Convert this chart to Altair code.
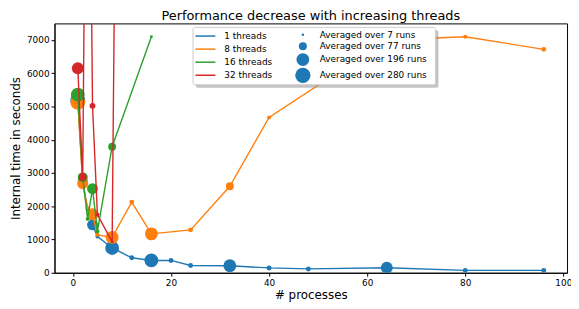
import altair as alt
import pandas as pd

series = ["1 threads", "8 threads", "16 threads", "32 threads"]
colors = ["#1f77b4", "#ff7f0e", "#2ca02c", "#d62728"]

x_1 = [1, 2, 3, 4, 5, 8, 12, 16, 20, 24, 32, 40, 48, 64, 80, 96]
y_1 = [5180, 2750, 1900, 1440, 1090, 745, 450, 370, 370, 218, 210, 145, 115, 150, 70, 70]
r_1 = [265, 118, 19, 142, 19, 230, 29, 230, 29, 29, 199, 29, 29, 170, 29, 29]

x_8 = [1, 2, 3, 4, 5, 8, 12, 16, 24, 32, 40, 64, 80, 96]
y_8 = [5130, 2680, 1950, 1760, 1140, 1065, 2125, 1170, 1290, 2600, 4670, 7000, 7100, 6720]
r_8 = [265, 142, 19, 170, 19, 199, 29, 199, 29, 75, 19, 19, 19, 29]

x_16 = [1, 2, 3, 4, 5, 8, 16]
y_16 = [5360, 2870, 1620, 2530, 1250, 3790, 7100]
r_16 = [230, 118, 19, 142, 19, 75, 10]

x_32 = [1, 2, 3, 4, 5, 8, 16]
y_32 = [6150, 2880, 20500, 5020, 1750, 930, 130000]
r_32 = [170, 75, 19, 42, 19, 10, 10]

legend_runs = [7, 77, 196, 280]

xs = [x_1, x_8, x_16, x_32]
ys = [y_1, y_8, y_16, y_32]
rs = [r_1, r_8, r_16, r_32]

frames = []
for s, xv, yv, rv in zip(series, xs, ys, rs):
    frames.append(pd.DataFrame({"series": s, "procs": xv, "time": yv, "runs": rv}))
df = pd.concat(frames, ignore_index=True)

FONT = "DejaVu Sans"

xenc = alt.X("procs:Q", title="# processes",
             scale=alt.Scale(domain=[-3.75, 100.75], nice=False, zero=False),
             axis=alt.Axis(values=[0, 20, 40, 60, 80, 100], format="d"))
yenc = alt.Y("time:Q", title="Internal time in seconds",
             scale=alt.Scale(domain=[0, 7500], nice=False),
             axis=alt.Axis(values=[0, 1000, 2000, 3000, 4000, 5000, 6000, 7000], format="d"))

color_scale = alt.Scale(domain=series, range=colors)
size_scale = alt.Scale(type="linear", domain=[0, 280], range=[0, 238], zero=True)

layers = []
for i, (s, c) in enumerate(zip(series, colors)):
    base = alt.Chart(df).transform_filter(alt.datum.series == s)
    line = base.mark_line(clip=True, strokeWidth=1.4).encode(
        x=xenc, y=yenc,
        color=alt.Color("series:N", scale=color_scale, sort=series,
                        legend=alt.Legend(title=None, orient="none", legendX=145, legendY=5.3,
                                          symbolType="M-1.5,0H1.5", symbolSize=180,
                                          symbolStrokeWidth=1.5, labelFontSize=9,
                                          labelFont=FONT, labelOffset=11.6, rowPadding=0.2,
                                          labelColor="#000")),
        order="procs:Q",
    )
    pts = base.mark_circle(clip=True, opacity=1).encode(
        x=xenc, y=yenc,
        color=alt.value(c),
        size=alt.Size("runs:Q", scale=size_scale,
                      legend=alt.Legend(title=None, orient="none", legendX=243, legendY=7,
                                        values=legend_runs, symbolFillColor="#808080",
                                        symbolStrokeColor="#808080", symbolStrokeWidth=0,
                                        labelFontSize=9, labelFont=FONT, labelOffset=9,
                                        rowPadding=1.5, labelColor="#000",
                                        labelExpr="'Averaged over ' + datum.label + ' runs'")),
    )
    layers += [line, pts]

box_df = pd.DataFrame({"k": [0]})
shadow = alt.Chart(box_df).mark_rect(fill="#888888", opacity=0.5, cornerRadius=2).encode(
    x=alt.value(143), x2=alt.value(388), y=alt.value(7), y2=alt.value(65))
box = alt.Chart(box_df).mark_rect(fill="white", stroke="#cccccc", strokeWidth=1,
                                  opacity=1, cornerRadius=2).encode(
    x=alt.value(140), x2=alt.value(385), y=alt.value(4), y2=alt.value(62))

chart = alt.layer(*layers, shadow, box).resolve_scale(color="shared").properties(
    width=518, height=252,
    title=alt.TitleParams("Performance decrease with increasing threads", fontSize=13,
                          font=FONT, fontWeight="normal", offset=5, dy=5, frame="group",
                          color="#000"),
    autosize=alt.AutoSizeParams(type="none"),
    padding={"left": 47, "top": 14, "right": 4, "bottom": 28},
).configure_view(stroke="#000", strokeWidth=1).configure_axis(
    grid=False, labelFont=FONT, titleFont=FONT, labelFontSize=9, titleFontSize=12,
    titleFontWeight="normal", tickSize=3.5, tickColor="#000", domainColor="#000",
    labelColor="#000", titleColor="#000", labelPadding=2,
).configure_axisX(titlePadding=3).configure_axisY(titlePadding=4)

chart.save("out.html", embed_options={"renderer": "svg", "actions": False})
